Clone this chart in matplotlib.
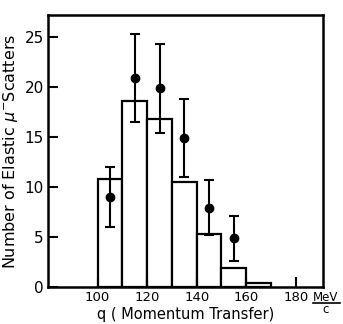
import matplotlib
matplotlib.use("Agg")
from matplotlib import pyplot as plt
import numpy as np

# histogram (expected) - bin left edges and heights
bin_left = [100, 110, 120, 130, 140, 150, 160]
bin_height = [10.8, 18.6, 16.8, 10.5, 5.3, 1.9, 0.4]

# measured points with error bars
q_pts = [105, 115, 125, 135, 145, 155]
n_pts = [9.0, 20.9, 19.9, 14.9, 7.9, 4.9]
err_lo = [3.0, 4.4, 4.5, 3.9, 2.7, 2.3]
err_hi = [3.0, 4.4, 4.4, 3.9, 2.8, 2.2]

xticks = [100, 120, 140, 160, 180]
yticks = [0, 5, 10, 15, 20, 25]
ytick_labels = ["0", "5", "10", "15", "20", "25"]

plt.rcParams['font.family'] = ['DejaVu Sans']

fig = plt.figure(figsize=(3.43, 3.24), dpi=100)
ax = fig.add_axes([0.14, 0.114, 0.802, 0.84])

ax.bar(bin_left, bin_height, width=10, align='edge', facecolor='white',
       edgecolor='black', linewidth=1.6)
ax.errorbar(q_pts, n_pts, yerr=[err_lo, err_hi], fmt='o', color='black',
            markersize=6, elinewidth=1.5, capsize=3.5, capthick=1.5)

ax.set_xlim(80, 191)
ax.set_ylim(0, 27.2)
ax.set_xticks(xticks)
ax.set_xticklabels([str(t) for t in xticks], fontsize=9.5)
ax.set_yticks(yticks)
ax.set_yticklabels(ytick_labels, fontsize=11)
ax.tick_params(direction='in', length=7, width=1.5, pad=3)
for s in ax.spines.values():
    s.set_linewidth(1.8)

ax.set_xlabel("q ( Momentum Transfer)", fontsize=10.5, labelpad=2)
ax.set_ylabel("Number of Elastic $\\mu^{-}$Scatters", fontsize=11.5, labelpad=3)

# MeV/c unit as a fraction right of the last tick label
fig.text(0.912, 0.083, "MeV", fontsize=8.5, ha='left', va='center')
fig.add_artist(plt.Line2D([0.912, 0.99], [0.066, 0.066], color='black',
                          linewidth=1.2, transform=fig.transFigure))
fig.text(0.948, 0.045, "c", fontsize=8.5, ha='center', va='center')

fig.savefig("out.png", dpi=100)
